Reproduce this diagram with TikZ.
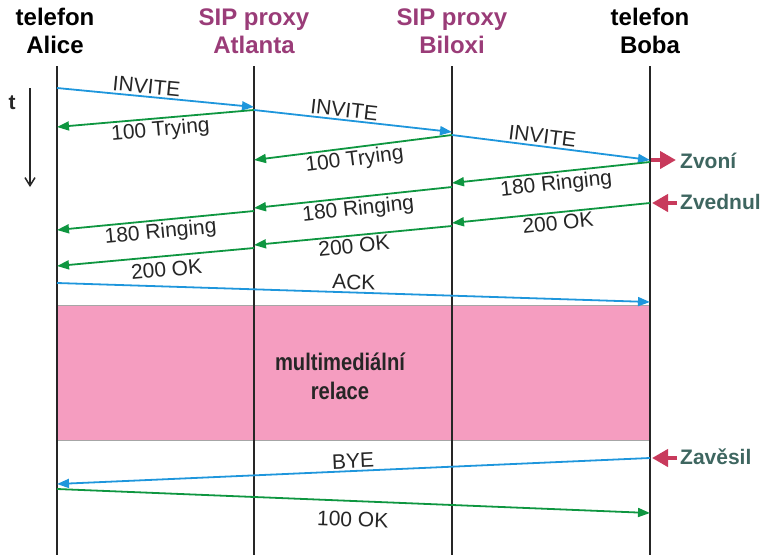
\documentclass[tikz,border=0pt]{standalone}
\usepackage{fontspec}
\setmainfont{Liberation Sans}
\newfontfamily\condfont[FakeStretch=0.84]{Liberation Sans}
\usetikzlibrary{arrows.meta}
\definecolor{msgblue}{HTML}{1E96DC}
\definecolor{msggreen}{HTML}{0E9640}
\definecolor{sesspink}{HTML}{F59DC0}
\definecolor{hdrpurple}{HTML}{9A3C78}
\definecolor{evtgray}{HTML}{3E6660}
\definecolor{evtred}{HTML}{C83A5C}
\begin{document}
\begin{tikzpicture}[x=1pt,y=-1pt,
  hdr/.style={font=\bfseries\fontsize{24}{28}\selectfont, align=center, inner sep=0pt},
  life/.style={line width=1.3pt, black!85},
  req/.style={msgblue, line width=1.8pt, -{Triangle[length=12pt,width=9pt]}},
  resp/.style={msggreen, line width=1.8pt, -{Triangle[length=12pt,width=9pt]}},
  lbl/.style={font=\fontsize{21}{24}\selectfont, text=black!85, sloped, inner sep=2pt},
  evt/.style={evtred, line width=4pt, -{Triangle[length=16pt,width=17pt]}},
  evtlbl/.style={font=\bfseries\fontsize{21}{24}\selectfont, text=evtgray, anchor=west, inner sep=0pt}
]
\useasboundingbox (0,0) rectangle (766,555);
% lifeline ends
\coordinate (aT) at (57,66);  \coordinate (aB) at (57,555);
\coordinate (tT) at (254,66); \coordinate (tB) at (254,555);
\coordinate (bT) at (452,66); \coordinate (bB) at (452,555);
\coordinate (oT) at (650,66); \coordinate (oB) at (650,555);
% headers
\node[hdr] (hA) at (55,31) {telefon\\Alice};
\node[hdr, text=hdrpurple] (hT) at (254,31) {SIP proxy\\Atlanta};
\node[hdr, text=hdrpurple] (hB) at (452,31) {SIP proxy\\Biloxi};
\node[hdr] (hO) at (650,31) {telefon\\Boba};
% session
\node[fill=sesspink, draw=black!35, line width=0.6pt, minimum width=593pt, minimum height=135pt, inner sep=0pt, anchor=north west] (sess) at (57,305) {};
\node[font=\condfont\bfseries\fontsize{24}{29}\selectfont, align=center, text=black!85] (sesslbl) at (340,376) {multimediální\\relace};
% lifelines
\draw[life] (aT) -- (aB);
\draw[life] (tT) -- (tB);
\draw[life] (bT) -- (bB);
\draw[life] (oT) -- (oB);
% time axis
\node[font=\bfseries\fontsize{21}{24}\selectfont, text=black!85] (tl) at (12,103) {t};
\coordinate (t1) at (30,88); \coordinate (t2) at (30,187);
\draw[line width=1.5pt, black!85, -{Straight Barb[length=8pt,width=10pt]}] (t1) -- (t2);
% message points
\coordinate (m1a) at (57,88);  \coordinate (m1b) at (254,107);
\coordinate (m2a) at (254,110); \coordinate (m2b) at (57,127);
\coordinate (m3a) at (254,110); \coordinate (m3b) at (452,132);
\coordinate (m4a) at (452,135); \coordinate (m4b) at (254,160);
\coordinate (m5a) at (452,135); \coordinate (m5b) at (650,160);
\coordinate (m6a) at (650,162); \coordinate (m6b) at (452,183);
\coordinate (m7a) at (452,187); \coordinate (m7b) at (254,208);
\coordinate (m8a) at (254,211); \coordinate (m8b) at (57,230);
\coordinate (m9a) at (650,203); \coordinate (m9b) at (452,223);
\coordinate (m10a) at (452,226); \coordinate (m10b) at (254,245);
\coordinate (m11a) at (254,248); \coordinate (m11b) at (57,266);
\coordinate (m12a) at (57,283); \coordinate (m12b) at (650,302);
\coordinate (m13a) at (650,458); \coordinate (m13b) at (57,484);
\coordinate (m14a) at (57,489); \coordinate (m14b) at (650,513);
% messages
\draw[req] (m1a) -- node[lbl, above, pos=0.45] (l1) {INVITE} (m1b);
\draw[resp] (m2a) -- node[lbl, below, pos=0.48] (l2) {100 Trying} (m2b);
\draw[req] (m3a) -- node[lbl, above, pos=0.45] (l3) {INVITE} (m3b);
\draw[resp] (m4a) -- node[lbl, below, pos=0.5] (l4) {100 Trying} (m4b);
\draw[req] (m5a) -- node[lbl, above, pos=0.45] (l5) {INVITE} (m5b);
\draw[resp] (m6a) -- node[lbl, below, pos=0.48] (l6) {180 Ringing} (m6b);
\draw[resp] (m7a) -- node[lbl, below, pos=0.48] (l7) {180 Ringing} (m7b);
\draw[resp] (m8a) -- node[lbl, below, pos=0.48] (l8) {180 Ringing} (m8b);
\draw[resp] (m9a) -- node[lbl, below, pos=0.47] (l9) {200 OK} (m9b);
\draw[resp] (m10a) -- node[lbl, below, pos=0.5] (l10) {200 OK} (m10b);
\draw[resp] (m11a) -- node[lbl, below=3pt, pos=0.45] (l11) {200 OK} (m11b);
\draw[req] (m12a) -- node[lbl, above, pos=0.5] (l12) {ACK} (m12b);
\draw[req] (m13a) -- node[lbl, above, pos=0.5] (l13) {BYE} (m13b);
\draw[resp] (m14a) -- node[lbl, below=8pt, pos=0.5] (l14) {100 OK} (m14b);
% events
\coordinate (e1a) at (651,160); \coordinate (e1b) at (676,160);
\coordinate (e2a) at (677,203); \coordinate (e2b) at (652,203);
\coordinate (e3a) at (677,458); \coordinate (e3b) at (652,458);
\draw[evt] (e1a) -- (e1b);
\draw[evt] (e2a) -- (e2b);
\draw[evt] (e3a) -- (e3b);
\node[evtlbl] (z1) at (680,161) {Zvoní};
\node[evtlbl] (z2) at (680,202) {Zvednul};
\node[evtlbl] (z3) at (680,457) {Zavěsil};
\end{tikzpicture}
\end{document}
